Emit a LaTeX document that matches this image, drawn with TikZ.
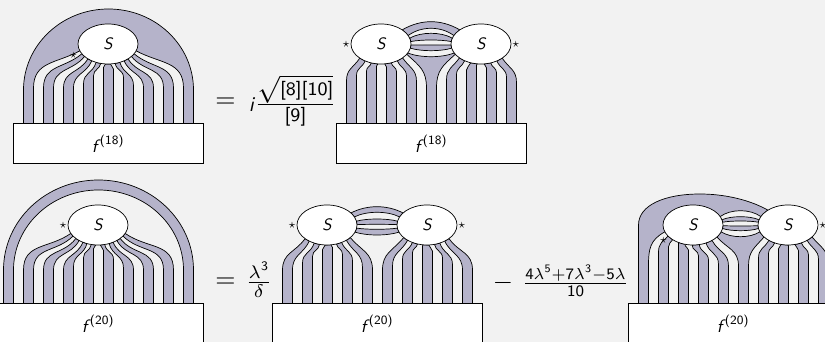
\documentclass[tikz,border=0pt]{standalone}
\usepackage{amsmath}
\usepackage{graphicx}
\usepackage{xcolor}
\usepackage{tikz}
\usetikzlibrary{backgrounds,calc,positioning,shapes.geometric}
\definecolor{pagegray}{HTML}{F2F2F2}
\definecolor{bandgray}{HTML}{B5B3CA}
\newcommand{\sfup}[1]{\text{\sffamily #1}}
\newcommand{\sfit}[1]{\text{\sffamily\itshape #1}}
\newcommand{\Slab}{\scalebox{1.65}{$\sfit{S}$}}
\newcommand{\flab}[1]{\scalebox{1.8}{$\sfit{f}^{\,\sfup{(#1)}}$}}
\tikzset{
  ell/.style={draw,fill=white,ellipse,line width=0.7pt,minimum width=60pt,minimum height=40pt,inner sep=0pt},
  fbox/.style={draw,fill=white,line width=0.7pt,minimum width=189.5pt,minimum height=40pt,inner sep=0pt},
  band/.style={fill=bandgray,draw=black,line width=0.7pt,line join=round,looseness=1.15},
  txt/.style={inner sep=0pt},
  starmark/.style={inner sep=0pt,scale=1.3}
}
% a shaded band of two strands, from the box to the ellipses
\newcommand{\band}[7][]{%
  \pgfmathsetmacro{\xa}{#2}\pgfmathsetmacro{\ta}{#3}%
  \pgfmathsetmacro{\xb}{#5}\pgfmathsetmacro{\tb}{#6}%
  \pgfmathsetmacro{\na}{atan2(3*sin(\ta),2*cos(\ta))}%
  \pgfmathsetmacro{\nb}{atan2(3*sin(\tb),2*cos(\tb))}%
  \path (#4.center); \pgfgetlastxy{\cxa}{\cya}%
  \path (#7.center); \pgfgetlastxy{\cxb}{\cyb}%
  \pgfmathsetmacro{\ba}{max(\ybend,\cya+20*sin(\ta)-1.7*abs(\cxa+30*cos(\ta)-\xa))}%
  \pgfmathsetmacro{\bb}{max(\ybend,\cyb+20*sin(\tb)-1.7*abs(\cxb+30*cos(\tb)-\xb))}%
  \filldraw[band] (\xa,\ybase) -- (\xa,\ba) to[out=90,in=\na] ($(#4.center)+(\ta:30 and 20)$)
    -- ($(#7.center)+(\tb:30 and 20)$) to[out=\nb,in=90] (\xb,\bb) -- (\xb,\ybase) #1 -- cycle;
}
% a shaded band between two ellipses
\newcommand{\tie}[6]{%
  \pgfmathsetmacro{\ca}{(4*(#2)-20*sin(#1))/3}\pgfmathsetmacro{\cb}{(4*(#4)-20*sin(#3))/3}%
  \pgfmathsetmacro{\ra}{180-(#1)}\pgfmathsetmacro{\rb}{180-(#3)}%
  \filldraw[band] ($(#5.center)+(#1:30 and 20)$)
    .. controls ($(#5.center)!.4!(#6.center)+(0,\ca)$) and ($(#5.center)!.6!(#6.center)+(0,\ca)$) .. ($(#6.center)+(\ra:30 and 20)$)
    -- ($(#6.center)+(\rb:30 and 20)$)
    .. controls ($(#5.center)!.6!(#6.center)+(0,\cb)$) and ($(#5.center)!.4!(#6.center)+(0,\cb)$) .. ($(#5.center)+(#3:30 and 20)$) -- cycle;
}
% the middle band: two strands joined by the lowest tie
\newcommand{\midband}[7]{%
  \pgfmathsetmacro{\ca}{(4*(#5)-20*sin(#4))/3}\pgfmathsetmacro{\ra}{180-(#4)}%
  \pgfmathsetmacro{\tb}{180-(#2)}%
  \pgfmathsetmacro{\na}{atan2(3*sin(#2),2*cos(#2))}\pgfmathsetmacro{\nb}{atan2(3*sin(\tb),2*cos(\tb))}%
  \filldraw[band] (#1,\ybase) -- (#1,\ybend) to[out=90,in=\na] ($(#6.center)+(#2:30 and 20)$)
    -- ($(#6.center)+(#4:30 and 20)$)
    .. controls ($(#6.center)!.4!(#7.center)+(0,\ca)$) and ($(#6.center)!.6!(#7.center)+(0,\ca)$) .. ($(#7.center)+(\ra:30 and 20)$)
    -- ($(#7.center)+(\tb:30 and 20)$) to[out=\nb,in=90] (#3,\ybend) -- (#3,\ybase) -- cycle;
}
\begin{document}
\begin{tikzpicture}[x=1pt,y=1pt]
\useasboundingbox (0,0) rectangle (825,342);
% top row
\node[ell] (S1) at (108,298) {\Slab};
\node[fbox] (F1) at (108.25,198.5) {\flab{18}};
\node[starmark] (st1) at (73.3,287) {$\star$};
\node[ell] (S2a) at (381,298) {\Slab};
\node[ell] (S2b) at (481,298) {\Slab};
\node[fbox] (F2) at (431.25,198.5) {\flab{18}};
\node[starmark,left=1pt of S2a] (st2a) {$\star$};
\node[starmark,right=1pt of S2b] (st2b) {$\star$};
\node[txt,scale=2.6] (eq1) at (225.5,239) {$=$};
\node[txt,scale=2.1] (i1) at (251.5,237) {$\sfit{i}$};
\node[txt,scale=2.7] (fr1) at (295.5,241.5) {$\frac{\sqrt{\sfup{[8][10]}}}{\sfup{[9]}}$};
% bottom row
\node[ell] (S3) at (98,117) {\Slab};
\node[fbox,minimum width=209.5pt] (F3) at (98.25,18.5) {\flab{20}};
\node[starmark,left=1pt of S3] (st3) {$\star$};
\node[ell] (S4a) at (327,117) {\Slab};
\node[ell] (S4b) at (427,117) {\Slab};
\node[fbox,minimum width=209.5pt] (F4) at (377.25,18.5) {\flab{20}};
\node[starmark,left=1pt of S4a] (st4a) {$\star$};
\node[starmark,right=1pt of S4b] (st4b) {$\star$};
\node[ell] (S5a) at (693,117) {\Slab};
\node[ell] (S5b) at (788,117) {\Slab};
\node[fbox,minimum width=209.5pt] (F5) at (733.25,18.5) {\flab{20}};
\node[starmark] (st5a) at (663.3,102) {$\star$};
\node[starmark,right=1pt of S5b] (st5b) {$\star$};
\node[txt,scale=2.6] (eq2) at (225.5,59) {$=$};
\node[txt,scale=2.6] (fr2) at (259,62) {$\frac{\lambda^{\sfup{3}}}{\delta}$};
\node[txt,scale=2.6] (mi2) at (503,59) {$-$};
\node[txt,scale=2.28] (fr3) at (575.5,61) {$\frac{\sfup{4}\lambda^{\sfup{5}}+\sfup{7}\lambda^{\sfup{3}}-\sfup{5}\lambda}{\sfup{10}}$};
\begin{scope}[on background layer]
\fill[pagegray] (0,0) rectangle (825,342);
\def\ybase{218.5}
\def\ybend{254}
\band[{-- (193.5,\ybase) -- (193.5,252) arc[start angle=0,end angle=180,x radius=85,y radius=81] -- (23.5,\ybase)}]{33.5}{200}{S1}{183.5}{340}{S1}
\foreach \i in {2,4,...,14} {
  \band{23.5+10*\i}{200+9.33*(\i-1)}{S1}{33.5+10*\i}{200+9.33*\i}{S1}
}
\foreach \i in {0,2,4,6} {
  \band{346.5+10*\i}{225+13*\i}{S2a}{356.5+10*\i}{238+13*\i}{S2a}
}
\foreach \i in {10,12,14,16} {
  \band{346.5+10*\i}{211+13*(\i-9)}{S2b}{356.5+10*\i}{211+13*(\i-8)}{S2b}
}
\midband{426.5}{329}{436.5}{-27}{-12.7}{S2a}{S2b}
\tie{45}{22.3}{25}{15.7}{S2a}{S2b}
\tie{17}{10.7}{7}{4}{S2a}{S2b}
\tie{-3}{-1}{-12}{-6.7}{S2a}{S2b}
\def\ybase{37.5}
\def\ybend{72}
% the outer ring
\filldraw[band] (3.5,\ybase) -- (3.5,72) arc[start angle=180,end angle=0,x radius=95,y radius=90] -- (193.5,\ybase)
  -- (183.5,\ybase) -- (183.5,72) arc[start angle=0,end angle=180,x radius=85,y radius=80] -- (13.5,\ybase) -- cycle;
\foreach \i in {2,4,...,16} {
  \band{3.5+10*\i}{205+8.67*(\i-2)}{S3}{13.5+10*\i}{205+8.67*(\i-1)}{S3}
}
\foreach \i in {0,2,...,8} {
  \band{282.5+10*\i}{223+10.9*\i}{S4a}{292.5+10*\i}{233.9+10.9*\i}{S4a}
}
\foreach \i in {10,12,...,18} {
  \band{282.5+10*\i}{219+10.9*(\i-10)}{S4b}{292.5+10*\i}{219+10.9*(\i-9)}{S4b}
}
\tie{37}{18.3}{24}{12.7}{S4a}{S4b}
\tie{11}{6}{1}{0.7}{S4a}{S4b}
\tie{-9}{-4.3}{-21}{-10}{S4a}{S4b}
\def\ybend{76}
% the outer strand runs over the left ellipse to the right one
\filldraw[band] (648.5,\ybase) -- (648.5,\ybend) to[out=90,in=209] ($(S5a.center)+(200:30 and 20)$)
  -- ($(S5a.center)+(25:30 and 20)$)
  .. controls ($(S5a.center)!.4!(S5b.center)+(0,16.25)$) and ($(S5a.center)!.6!(S5b.center)+(0,16.25)$) .. ($(S5b.center)+(155:30 and 20)$)
  -- ($(S5b.center)+(132:30 and 20)$) .. controls (750,142) and (725,148) .. (700,148)
  .. controls (665,148) and (638.5,137) .. (638.5,117) -- (638.5,\ybase) -- cycle;
\foreach \i in {2,4,6,8} {
  \band{638.5+10*\i}{200+13.67*(\i-1)}{S5a}{648.5+10*\i}{200+13.67*\i}{S5a}
}
\foreach \i in {12,14,16,18} {
  \band{638.5+10*\i}{217+13.25*(\i-11)}{S5b}{648.5+10*\i}{217+13.25*(\i-10)}{S5b}
}
\midband{738.5}{323}{748.5}{-20}{-11.7}{S5a}{S5b}
\tie{15}{8.3}{8}{4}{S5a}{S5b}
\tie{-2}{-1}{-10}{-5.7}{S5a}{S5b}
\end{scope}
\end{tikzpicture}
\end{document}
